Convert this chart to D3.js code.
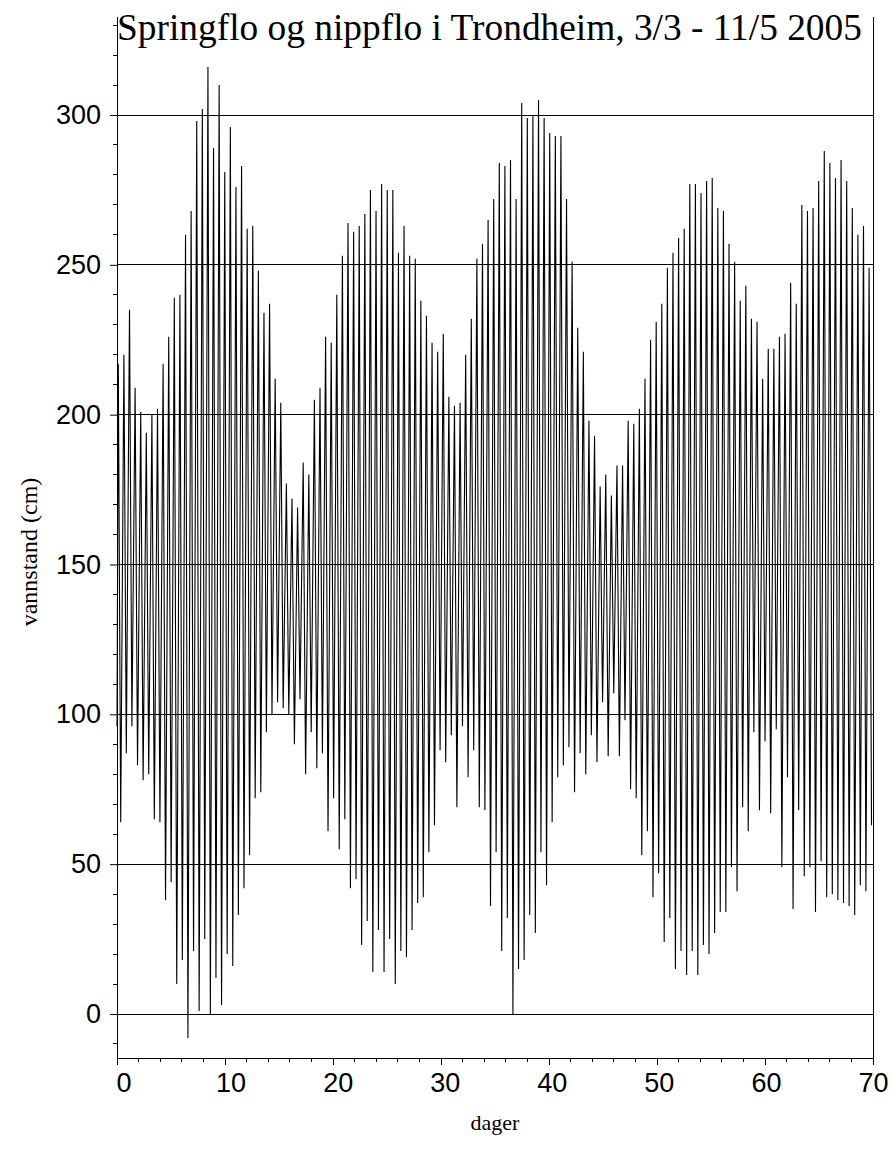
<!DOCTYPE html>
<html><head><meta charset="utf-8">
<script src="https://cdn.jsdelivr.net/npm/d3@7"></script>
<style>body{margin:0;background:#fff}</style>
</head><body>
<svg id="chart" width="893" height="1171"></svg>
<script>
// ---- data ----
const titleText = "Springflo og nippflo i Trondheim, 3/3 - 11/5 2005";
const xLabel = "dager";
const yLabel = "vannstand (cm)";
const xTicks = [0, 10, 20, 30, 40, 50, 60, 70];
const yTicks = [0, 50, 100, 150, 200, 250, 300];
const startLevel = 96;          // first reading, day 0
const firstHighDay = 0.12;      // time of first high water (days)
const firstLowDay = 0.343;      // time of first low water (days)
const tideStep = 0.5188;        // days between successive high (or low) waters
const highTide = [
  217, 220, 235, 209, 201, 194, 200, 202, 217, 226, 239, 240, 260, 268, 298, 302, 316, 289, 310, 281, 296, 276, 283,
  262, 263, 248, 234, 237, 212, 204, 177, 172, 169, 184, 180, 205, 209, 226, 224, 240, 253, 264, 261, 263, 267, 275,
  268, 277, 275, 275, 254, 263, 253, 252, 238, 233, 224, 221, 227, 206, 203, 204, 220, 232, 252, 257, 265, 272,
  284, 283, 285, 272, 304, 299, 300, 305, 299, 294, 293, 293, 272, 251, 229, 221, 198, 193, 176, 180, 173, 183, 183,
  198, 197, 202, 212, 225, 231, 237, 249, 254, 259, 262, 277, 277, 274, 278, 279, 269, 268, 257, 251, 238, 243, 232,
  231, 212, 222, 222, 226, 227, 244, 237, 270, 268, 269, 278, 288, 284, 279, 285, 278, 269, 260, 263, 249
];
const lowTide = [
  64, 87, 96, 83, 78, 80, 65, 64, 38, 44, 10, 18, -8, 21, 1, 25, 0, 12, 3, 20, 16, 33, 42,
  53, 72, 74, 94, 100, 104, 102, 100, 90, 105, 80, 94, 82, 87, 61, 72, 55, 65, 42, 45, 23, 31,
  14, 28, 14, 25, 10, 21, 19, 28, 37, 39, 54, 63, 88, 84, 93, 69, 96, 79, 88, 69, 68, 36, 54,
  21, 32, 0, 15, 18, 33, 27, 54, 43, 64, 79, 83, 89, 74, 87, 80, 93, 84, 104, 86, 107, 86, 98,
  75, 72, 53, 61, 39, 47, 24, 32, 15, 21, 13, 21, 13, 23, 20, 27, 34, 34, 49, 41, 69, 61, 94,
  68, 91, 67, 95, 49, 79, 35, 68, 46, 49, 34, 51, 39, 40, 38, 37, 36, 33, 43, 41, 63
];

// ---- layout ----
const svg = d3.select("#chart");
const left = 117, right = 873, plotTop = 17, plotBottom = 1058;
const x = d3.scaleLinear().domain([0, 70]).range([left, right]);
const y = d3.scaleLinear().domain([0, 300]).range([1014, 115]);
const yMax = y.invert(plotTop);

const serif = "'Liberation Serif','Times New Roman',serif";
const sans = "'Liberation Sans',Arial,sans-serif";

// gridlines
svg.append("g").selectAll("line").data(yTicks).join("line")
  .attr("x1", x(0)).attr("x2", x(70))
  .attr("y1", d => y(d)).attr("y2", d => y(d))
  .attr("stroke", "#000").attr("stroke-width", 1).attr("shape-rendering", "crispEdges");

// data series
const pts = [{t: 0, v: startLevel}];
highTide.forEach((h, i) => {
  pts.push({t: firstHighDay + i * tideStep, v: h});
  pts.push({t: firstLowDay + i * tideStep, v: lowTide[i]});
});
const line = d3.line().x(d => x(d.t)).y(d => y(d.v));
svg.append("path").datum(pts).attr("d", line)
  .attr("fill", "none").attr("stroke", "#000").attr("stroke-width", 1.1);

// y axis
const yAxisG = svg.append("g").attr("transform", `translate(${left},0)`);
const yMinor = d3.range(-10, yMax, 10).filter(v => v % 50 !== 0);
yAxisG.selectAll("line.minor").data(yMinor).join("line").attr("class", "minor")
  .attr("x1", -4).attr("x2", 0).attr("y1", d => y(d)).attr("y2", d => y(d))
  .attr("stroke", "#000").attr("shape-rendering", "crispEdges");
yAxisG.call(d3.axisLeft(y).tickValues(yTicks).tickSize(7).tickSizeOuter(0).tickPadding(9));
yAxisG.select(".domain").remove();
yAxisG.selectAll("text").attr("font-family", sans).attr("font-size", 27).attr("fill", "#000");
yAxisG.append("line").attr("x1", 0).attr("x2", 0).attr("y1", plotTop).attr("y2", plotBottom)
  .attr("stroke", "#000").attr("shape-rendering", "crispEdges");

// right frame line
svg.append("line").attr("x1", right).attr("x2", right).attr("y1", plotTop).attr("y2", plotBottom)
  .attr("stroke", "#000").attr("shape-rendering", "crispEdges");

// x axis
const xAxisG = svg.append("g").attr("transform", `translate(0,${plotBottom})`);
const xMinor = d3.range(2, 70, 2).filter(v => v % 10 !== 0);
xAxisG.selectAll("line.minor").data(xMinor).join("line").attr("class", "minor")
  .attr("x1", d => x(d)).attr("x2", d => x(d)).attr("y1", 0).attr("y2", 4)
  .attr("stroke", "#000").attr("shape-rendering", "crispEdges");
xAxisG.call(d3.axisBottom(x).tickValues(xTicks).tickSize(7).tickSizeOuter(0).tickPadding(8));
xAxisG.select(".domain").remove();
// labels in the original sit slightly right of their ticks on the left side
xAxisG.selectAll(".tick text")
  .attr("dx", d => 6.5 * (1 - d / 70))
  .attr("font-family", sans).attr("font-size", 27).attr("fill", "#000");
xAxisG.append("line").attr("x1", left).attr("x2", right).attr("y1", 0).attr("y2", 0)
  .attr("stroke", "#000").attr("shape-rendering", "crispEdges");

// title
const title = svg.append("text").text(titleText)
  .attr("x", (left + 862) / 2).attr("y", 40).attr("text-anchor", "middle")
  .attr("font-family", serif).attr("font-size", 36).attr("fill", "#000");
const tw = title.node().getComputedTextLength();
title.attr("font-size", 36 * 745 / tw);

// axis labels
svg.append("text").text(xLabel)
  .attr("x", 495).attr("y", 1130).attr("text-anchor", "middle")
  .attr("font-family", serif).attr("font-size", 22).attr("fill", "#000");
svg.append("text").text(yLabel)
  .attr("transform", "translate(37,552) rotate(-90)").attr("text-anchor", "middle")
  .attr("font-family", serif).attr("font-size", 24).attr("fill", "#000");
</script>
</body></html>
